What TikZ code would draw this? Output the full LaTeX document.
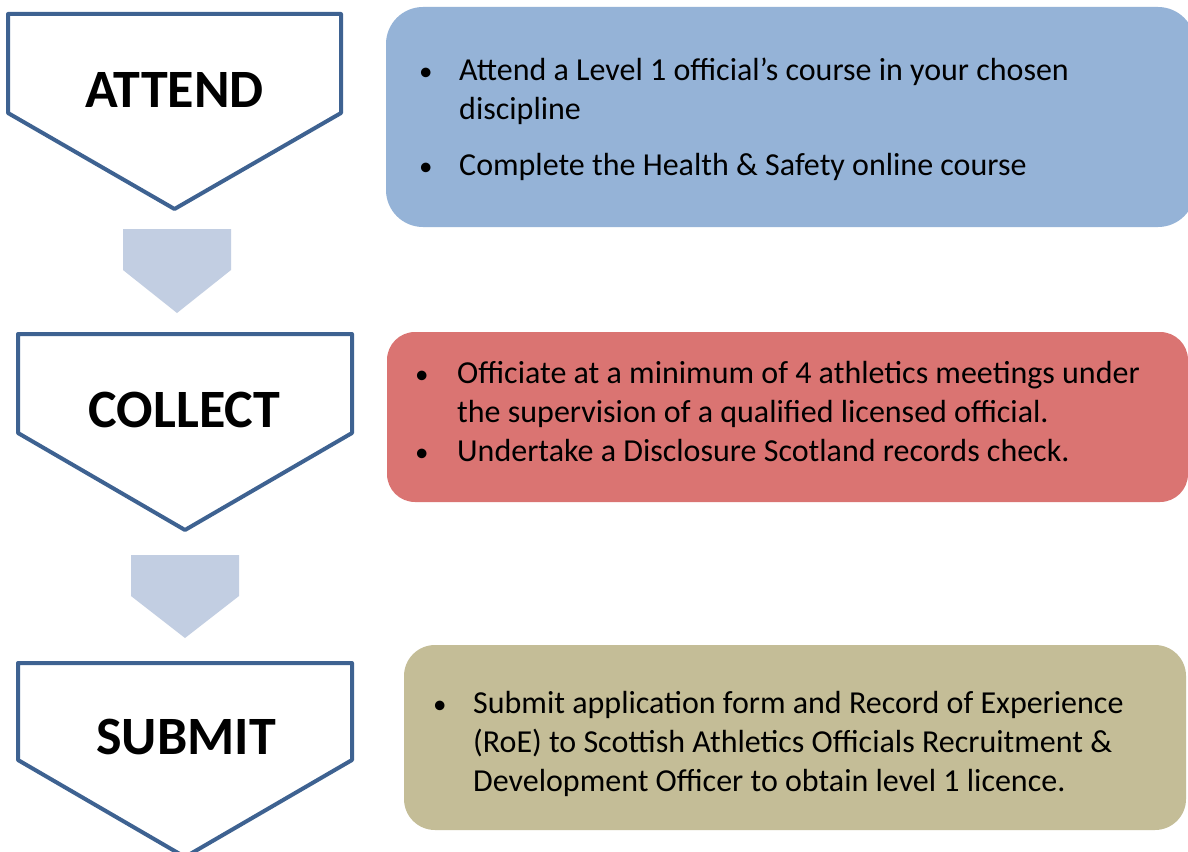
\documentclass[tikz,border=0pt]{standalone}
\usepackage{fontspec}
\setmainfont{Carlito}
\definecolor{chevline}{HTML}{3E6291}
\definecolor{linkfill}{HTML}{C2CEE2}
\definecolor{boxblue}{HTML}{95B3D7}
\definecolor{boxred}{HTML}{DA7472}
\definecolor{boxkhaki}{HTML}{C4BD97}
\tikzset{
  chevron/.style={draw=chevline, line width=4pt, line join=round, fill=white},
  linkarrow/.style={fill=linkfill},
  steplabel/.style={inner sep=0pt, font=\fontsize{54}{60}\selectfont\bfseries},
  bullettext/.style={inner sep=0pt, anchor=base west, align=left,
    font=\fontsize{32}{39}\selectfont},
}
\newcommand{\bul}{{\fontsize{27}{27}\selectfont\textbullet}}
\begin{document}
\begin{tikzpicture}[x=1pt,y=-1pt]
\useasboundingbox (0,0) rectangle (1188,851);
\clip (0,0) rectangle (1188,851);
\fill[white] (0,0) rectangle (1188,851);

% rounded description panels
\fill[boxblue, rounded corners=37pt] (386,7) rectangle (1195,227);
\fill[boxred, rounded corners=28pt] (387,332) rectangle (1188,502);
\fill[boxkhaki, rounded corners=31pt] (404,645) rectangle (1186,830);

% step chevrons
\draw[chevron] (8,14) -- (341,14) -- (341,113) -- (174.5,209) -- (8,113) -- cycle;
\draw[chevron] (18,334) -- (352,334) -- (352,433) -- (185,530) -- (18,433) -- cycle;
\draw[chevron] (18,663) -- (352,663) -- (352,760) -- (185,857) -- (18,760) -- cycle;

% connecting arrows between steps
\fill[linkarrow] (123,229) -- (231,229) -- (231,270) -- (177,313) -- (123,270) -- cycle;
\fill[linkarrow] (131,555) -- (239,555) -- (239,596) -- (185,638) -- (131,596) -- cycle;

% step labels
\node[steplabel] (attend) at (174.5,89.5) {ATTEND};
\node[steplabel] (collect) at (184.5,409.5) {COLLECT};
\node[steplabel] (submit) at (186,737) {SUBMIT};

% panel texts
\node[bullettext] (attendtext) at (419,81) {%
  \begin{tabular}[t]{@{}p{40pt}@{}l@{}}
  \bul & Attend a Level 1 official’s course in your chosen\\
   & discipline\\[16pt]
  \bul & Complete the Health \& Safety online course
  \end{tabular}};
\node[bullettext] (collecttext) at (415,383) {%
  \begin{tabular}[t]{@{}p{42pt}@{}l@{}}
  \bul & Officiate at a minimum of 4 athletics meetings under\\
   & the supervision of a qualified licensed official.\\
  \bul & Undertake a Disclosure Scotland records check.
  \end{tabular}};
\node[bullettext] (submittext) at (433,713) {%
  \begin{tabular}[t]{@{}p{40pt}@{}l@{}}
  \bul & Submit application form and Record of Experience\\
   & (RoE) to Scottish Athletics Officials Recruitment \&\\
   & Development Officer to obtain level 1 licence.
  \end{tabular}};
\end{tikzpicture}
\end{document}
